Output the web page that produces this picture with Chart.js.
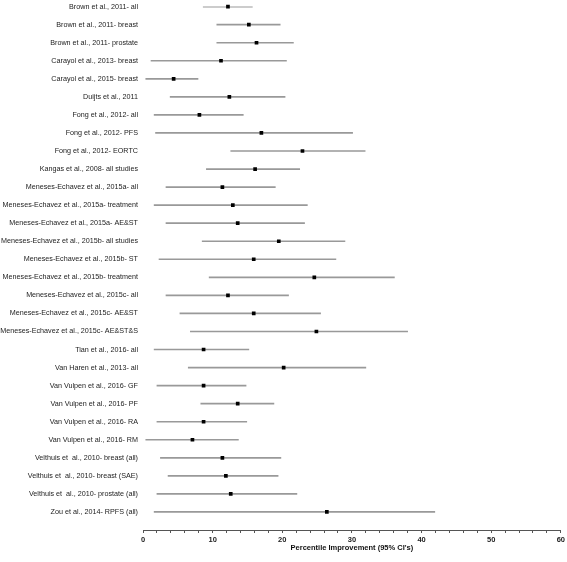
<!DOCTYPE html>
<html>
<head>
<meta charset="utf-8">
<script src="https://cdn.jsdelivr.net/npm/chart.js@4"></script>
<style>
  html, body { margin: 0; padding: 0; background: #fff; }
  #wrap { width: 567px; height: 562px; }
</style>
</head>
<body>
<div id="wrap"><canvas id="forest"></canvas></div>
<script>
var studies = [
  'Brown et al., 2011- all',
  'Brown et al., 2011- breast',
  'Brown et al., 2011- prostate',
  'Carayol et al., 2013- breast',
  'Carayol et al., 2015- breast',
  'Duijts et al., 2011',
  'Fong et al., 2012- all',
  'Fong et al., 2012- PFS',
  'Fong et al., 2012- EORTC',
  'Kangas et al., 2008- all studies',
  'Meneses-Echavez et al., 2015a- all',
  'Meneses-Echavez et al., 2015a- treatment',
  'Meneses-Echavez et al., 2015a- AE&ST',
  'Meneses-Echavez et al., 2015b- all studies',
  'Meneses-Echavez et al., 2015b- ST',
  'Meneses-Echavez et al., 2015b- treatment',
  'Meneses-Echavez et al., 2015c- all',
  'Meneses-Echavez et al., 2015c- AE&ST',
  'Meneses-Echavez et al., 2015c- AE&ST&S',
  'Tian et al., 2016- all',
  'Van Haren et al., 2013- all',
  'Van Vulpen et al., 2016- GF',
  'Van Vulpen et al., 2016- PF',
  'Van Vulpen et al., 2016- RA',
  'Van Vulpen et al., 2016- RM',
  'Velthuis et  al., 2010- breast (all)',
  'Velthuis et  al., 2010- breast (SAE)',
  'Velthuis et  al., 2010- prostate (all)',
  'Zou et al., 2014- RPFS (all)'
];

var estimate = [12.2, 15.2, 16.3, 11.2, 4.4, 12.4, 8.1, 17.0, 22.9, 16.1,
  11.4, 12.9, 13.6, 19.5, 15.9, 24.6, 12.2, 15.9, 24.9, 8.7,
  20.2, 8.7, 13.6, 8.7, 7.1, 11.4, 11.9, 12.6, 26.4];

var ciLower = [8.65, 10.6, 10.6, 1.15, 0.4, 3.9, 1.6, 1.8, 12.6, 9.1,
  3.3, 1.6, 3.3, 8.5, 2.3, 9.5, 3.3, 5.3, 6.8, 1.6,
  6.5, 2.0, 8.3, 2.0, 0.4, 2.5, 3.6, 2.0, 1.6];

var ciUpper = [15.7, 19.7, 21.6, 20.6, 7.9, 20.4, 14.4, 30.1, 31.9, 22.5,
  19.0, 23.6, 23.2, 29.0, 27.7, 36.1, 20.9, 25.5, 38.0, 15.2,
  32.0, 14.8, 18.8, 14.9, 13.7, 19.8, 19.4, 22.1, 41.9];

// blank slot at the bottom so the last study sits one row above the axis
var rowLabels = studies.concat(['']);

var ciBars = studies.map(function(s, i) { return [ciLower[i], ciUpper[i]]; });
var points = studies.map(function(s, i) { return {x: estimate[i], y: s}; });

var fontFamily = 'Liberation Sans, Arial, sans-serif';

new Chart(document.getElementById('forest'), {
  type: 'bar',
  data: {
    labels: rowLabels,
    datasets: [{
      type: 'bar',
      data: ciBars,
      backgroundColor: '#999',
      barThickness: 1,
      order: 2
    }, {
      type: 'line',
      data: points,
      showLine: false,
      pointStyle: 'rect',
      pointRadius: 2.6,
      pointBackgroundColor: '#000',
      pointBorderWidth: 0,
      order: 1
    }]
  },
  options: {
    indexAxis: 'y',
    responsive: true,
    maintainAspectRatio: false,
    animation: false,
    layout: {padding: {top: 0, right: 5, left: 0, bottom: 10}},
    plugins: {legend: {display: false}, tooltip: {enabled: false}},
    scales: {
      y: {
        type: 'category',
        offset: false,
        grid: {display: false, drawTicks: false, offset: false},
        border: {display: false},
        ticks: {
          color: '#222',
          padding: 5,
          autoSkip: false,
          font: {family: fontFamily, size: 7.2, lineHeight: 0.45}
        },
        afterFit: function(scale) { scale.width = 143; }
      },
      x: {
        type: 'linear',
        min: 0,
        max: 60,
        grid: {
          drawOnChartArea: false,
          drawTicks: true,
          tickLength: 3,
          color: '#555'
        },
        border: {display: true, color: '#555', width: 1},
        ticks: {
          stepSize: 2,
          autoSkip: false,
          maxRotation: 0,
          padding: 2,
          color: '#222',
          font: {family: fontFamily, size: 7.5, weight: 'bold'},
          callback: function(v) { return v % 10 === 0 ? v : ''; }
        },
        title: {
          display: true,
          text: "Percentile Improvement (95% CI's)",
          color: '#111',
          padding: {top: 1, bottom: 0},
          font: {family: fontFamily, size: 7.5, weight: 'bold'}
        },
        afterFit: function(scale) { scale.height = 22; }
      }
    }
  }
});
</script>
</body>
</html>
